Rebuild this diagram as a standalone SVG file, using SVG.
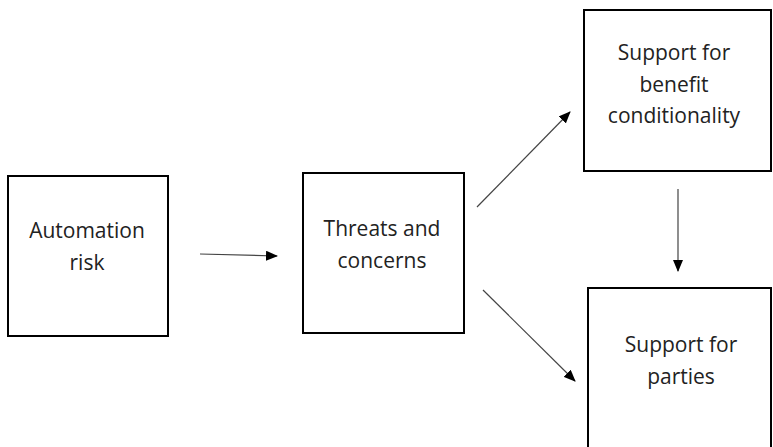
<svg xmlns="http://www.w3.org/2000/svg" width="773" height="447" viewBox="0 0 773 447">
<defs>
<style>
.box{fill:#fff;stroke:#000;stroke-width:2}
.t{font-family:"Open Sans","Noto Sans",sans-serif;font-size:21px;fill:#222;text-anchor:middle}
.c{stroke:#444;stroke-width:1.2;fill:none;marker-end:url(#ah)}
</style>
<marker id="ah" viewBox="0 0 12 10" refX="11" refY="5" markerWidth="12" markerHeight="10" markerUnits="userSpaceOnUse" orient="auto">
<path d="M0,0 L12,5 L0,10 Z" fill="#000"/>
</marker>
</defs>
<rect width="773" height="447" fill="#fff"/>
<g id="automation">
<rect class="box" x="8" y="176" width="160" height="160"/>
<text class="t" x="87" y="238">Automation</text>
<text class="t" x="87" y="270">risk</text>
</g>
<g id="threats">
<rect class="box" x="303" y="173" width="161" height="160"/>
<text class="t" x="382" y="236">Threats and</text>
<text class="t" x="382" y="268">concerns</text>
</g>
<g id="conditionality">
<rect class="box" x="584" y="10" width="187" height="161"/>
<text class="t" x="674" y="60">Support for</text>
<text class="t" x="674" y="92">benefit</text>
<text class="t" x="674" y="123">conditionality</text>
</g>
<g id="parties">
<rect class="box" x="588" y="288" width="183" height="170"/>
<text class="t" x="681" y="352">Support for</text>
<text class="t" x="681" y="384">parties</text>
</g>
<g id="connectors">
<line class="c" x1="200" y1="254" x2="277" y2="256"/>
<line class="c" x1="477" y1="207" x2="570" y2="112"/>
<line class="c" x1="483" y1="290" x2="575" y2="381"/>
<line class="c" x1="678" y1="189" x2="678" y2="271"/>
</g>
</svg>
